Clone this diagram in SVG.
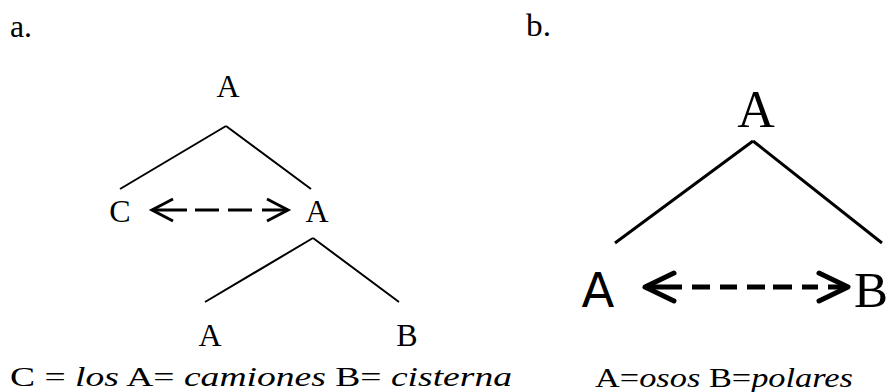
<svg xmlns="http://www.w3.org/2000/svg" width="892" height="392" viewBox="0 0 892 392">
<style>
.serif{font-family:"Liberation Serif","DejaVu Serif",serif;fill:#000}
.sans{font-family:"DejaVu Sans","Liberation Sans",sans-serif;fill:#000}
.edge{stroke:#000;fill:none;stroke-linecap:butt}
.it{font-style:italic}
</style>
<defs>
<marker id="chevA" markerUnits="userSpaceOnUse" viewBox="-24 -14 28 28" refX="0" refY="0" markerWidth="28" markerHeight="28" orient="auto-start-reverse" overflow="visible">
<path d="M-21,-11 L0,0 L-21,11" fill="none" stroke="#000" stroke-width="3"/>
</marker>
<marker id="chevB" markerUnits="userSpaceOnUse" viewBox="-34 -18 38 36" refX="0" refY="0" markerWidth="38" markerHeight="36" orient="auto-start-reverse" overflow="visible">
<path d="M-29,-14 L0,0 L-29,14" fill="none" stroke="#000" stroke-width="5" stroke-linecap="round" stroke-linejoin="round"/>
</marker>
</defs>
<rect width="892" height="392" fill="#fff"/>
<text class="serif" x="10" y="37" font-size="31" textLength="22" lengthAdjust="spacingAndGlyphs">a.</text>
<text class="serif" x="526" y="36" font-size="31" textLength="25" lengthAdjust="spacingAndGlyphs">b.</text>
<g id="connectors">
<path class="edge" stroke-width="2" d="M226,126 L120,189 M226,126 L311,189"/>
<path class="edge" stroke-width="2" d="M313,238 L205,302 M313,238 L399,302"/>
<path class="edge" stroke-width="3" d="M152,210 H288" stroke-dasharray="35 8 24 9 24 10 26" marker-start="url(#chevA)" marker-end="url(#chevA)"/>
<path class="edge" stroke-width="3" d="M753,141 L615,243 M753,141 L882,243"/>
<path class="edge" stroke-width="5" d="M645,287 H848" stroke-dasharray="37 10 18 10 17 10 18 8 19 10 16 10 20" marker-start="url(#chevB)" marker-end="url(#chevB)"/>
</g>
<g id="a-top"><text class="serif" x="228" y="97" font-size="32" text-anchor="middle">A</text></g>
<g id="a-C"><text class="serif" x="120" y="222" font-size="32" text-anchor="middle">C</text></g>
<g id="a-mid"><text class="serif" x="317" y="222" font-size="32" text-anchor="middle">A</text></g>
<g id="a-botA"><text class="serif" x="210" y="346" font-size="32" text-anchor="middle">A</text></g>
<g id="a-botB"><text class="serif" x="407" y="346" font-size="32" text-anchor="middle">B</text></g>
<g id="b-top"><text class="serif" x="756" y="127" font-size="52" text-anchor="middle">A</text></g>
<g id="b-A"><text class="sans" x="598" y="307" font-size="48" text-anchor="middle">A</text></g>
<g id="b-B"><text class="serif" x="871" y="307" font-size="51" text-anchor="middle">B</text></g>
<text class="serif" x="10" y="386" font-size="28" textLength="502" lengthAdjust="spacingAndGlyphs">C = <tspan class="it">los</tspan> A= <tspan class="it">camiones</tspan> B= <tspan class="it">cisterna</tspan></text>
<text class="serif" x="595" y="387" font-size="28" textLength="258" lengthAdjust="spacingAndGlyphs">A=<tspan class="it">osos</tspan> B=<tspan class="it">polares</tspan></text>
</svg>
